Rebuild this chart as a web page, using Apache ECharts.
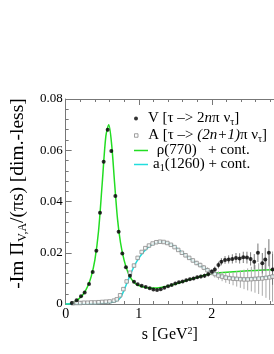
<!DOCTYPE html>
<html><head><meta charset="utf-8">
<script src="https://cdn.jsdelivr.net/npm/echarts@6/dist/echarts.min.js"></script>
<style>html,body{margin:0;padding:0;background:#fff}#c{width:274px;height:354px}</style>
</head><body><div id="c"></div>
<script>
// V data [tau -> 2n pi nu]
const vS = [0.085,0.15,0.21,0.26,0.32,0.37,0.42,0.47,0.52,0.575,0.625,0.68,0.725,0.775,0.825,0.88,0.935,0.985,1.04,1.095,1.15,1.2,1.25,1.3,1.35,1.4,1.45,1.5,1.55,1.6,1.65,1.7,1.75,1.8,1.85,1.9,1.95,2.0,2.04,2.09,2.13,2.18,2.23,2.28,2.33,2.38,2.43,2.48,2.53,2.58,2.63,2.69,2.73,2.78,2.83];
const vV = [0.0004,0.0015,0.003,0.0045,0.0078,0.0125,0.0208,0.0356,0.0555,0.068,0.0597,0.0421,0.0282,0.0197,0.0143,0.011,0.0087,0.0077,0.0071,0.0066,0.0061,0.0057,0.0055,0.0058,0.0063,0.0069,0.0074,0.008,0.0085,0.0088,0.0093,0.0097,0.01,0.0104,0.0107,0.011,0.0116,0.0126,0.0135,0.0152,0.0165,0.0172,0.0174,0.0176,0.018,0.0178,0.0182,0.0181,0.0176,0.0165,0.02,0.0159,0.0174,0.02,0.0135];
const vE = [0.0002,0.0002,0.0002,0.0002,0.0003,0.0003,0.0004,0.0005,0.0006,0.0007,0.0006,0.0005,0.0004,0.0003,0.0003,0.0003,0.0003,0.0003,0.0003,0.0003,0.0003,0.0003,0.0003,0.0003,0.0003,0.0003,0.0003,0.0004,0.0004,0.0004,0.0005,0.0005,0.0006,0.0006,0.0007,0.0008,0.0009,0.001,0.0011,0.0013,0.0014,0.0015,0.0016,0.0018,0.0019,0.002,0.0022,0.0023,0.0026,0.003,0.0036,0.004,0.0045,0.0053,0.006];
// A data [tau -> (2n+1) pi nu]
const aS = [0.1,0.15,0.2,0.25,0.3,0.35,0.4,0.45,0.5,0.55,0.6,0.66,0.7,0.745,0.79,0.835,0.88,0.935,0.985,1.04,1.09,1.14,1.19,1.24,1.29,1.34,1.39,1.44,1.49,1.54,1.59,1.64,1.69,1.74,1.79,1.84,1.89,1.94,1.99,2.04,2.09,2.14,2.19,2.24,2.29,2.34,2.39,2.44,2.49,2.54,2.59,2.64,2.69,2.74,2.79,2.83];
const aV = [0.0003,0.0004,0.0004,0.0005,0.0005,0.0006,0.0006,0.0007,0.0008,0.0009,0.001,0.0013,0.0018,0.0034,0.0058,0.0088,0.0122,0.015,0.018,0.0203,0.0218,0.0228,0.0236,0.0241,0.0243,0.0242,0.0238,0.0231,0.0222,0.0211,0.02,0.019,0.018,0.017,0.016,0.0152,0.0142,0.0132,0.0124,0.0117,0.0111,0.0107,0.0103,0.0101,0.0099,0.0098,0.0097,0.0096,0.0096,0.0097,0.0098,0.0099,0.01,0.0102,0.0104,0.0107];
const aE = [0.0002,0.0002,0.0002,0.0002,0.0002,0.0002,0.0002,0.0002,0.0002,0.0003,0.0003,0.0003,0.0003,0.0004,0.0004,0.0005,0.0005,0.0005,0.0005,0.0005,0.0005,0.0005,0.0005,0.0005,0.0005,0.0005,0.0005,0.0005,0.0006,0.0006,0.0006,0.0007,0.0007,0.0008,0.0008,0.0009,0.001,0.0011,0.0012,0.0014,0.0016,0.0018,0.002,0.0023,0.0026,0.003,0.0034,0.0038,0.0043,0.0048,0.0054,0.006,0.0068,0.0078,0.0088,0.0098];
// rho(770) + continuum curve
const rhoS = [0,0.05,0.1,0.15,0.2,0.25,0.3,0.35,0.4,0.45,0.5,0.55,0.59,0.63,0.67,0.71,0.75,0.8,0.85,0.9,0.95,1.0,1.1,1.2,1.3,1.4,1.5,1.6,1.7,1.8,1.9,2.0,2.2,2.4,2.6,2.85];
const rhoV = [0,0.0001,0.0005,0.0013,0.0025,0.0042,0.0068,0.0108,0.0172,0.0285,0.047,0.0655,0.07,0.062,0.047,0.033,0.024,0.017,0.0125,0.0097,0.0081,0.0072,0.0064,0.0062,0.0064,0.007,0.0078,0.0087,0.0096,0.0104,0.0112,0.0119,0.0124,0.0128,0.0131,0.0134];
// a1(1260) + continuum curve
const a1S = [0,0.3,0.5,0.6,0.65,0.7,0.75,0.8,0.85,0.9,0.95,1.0,1.05,1.1,1.15,1.2,1.3,1.4,1.5,1.6,1.7,1.8,1.9,2.0,2.1,2.2,2.3,2.4,2.5,2.6,2.7,2.85];
const a1V = [0,0.0001,0.0003,0.0006,0.0008,0.0013,0.0025,0.0055,0.009,0.0125,0.0155,0.0178,0.0198,0.0214,0.0226,0.0235,0.0243,0.0238,0.0222,0.0199,0.0177,0.0158,0.014,0.0124,0.0112,0.0105,0.0101,0.0099,0.0099,0.0101,0.0104,0.0109];

const F = 'Liberation Serif';
const axisCol = '#777';
const pair = (xs, ys) => xs.map((s, i) => [s, ys[i]]);
function errSeries(xs, ys, es, color) {
  return {
    type: 'custom', xAxisIndex: 0, yAxisIndex: 0, silent: true, clip: true, z: 3,
    data: xs.map((s, i) => [s, ys[i] - es[i], ys[i] + es[i]]),
    encode: {x: 0, y: [1, 2]},
    renderItem: (p, api) => {
      const lo = api.coord([api.value(0), api.value(1)]);
      const hi = api.coord([api.value(0), api.value(2)]);
      return {type: 'line', shape: {x1: lo[0], y1: lo[1], x2: hi[0], y2: hi[1]}, style: {stroke: color, lineWidth: 1}};
    }
  };
}
const rich = {
  a: {fontFamily: F, fontSize: 15, color: '#000', lineHeight: 18},
  i: {fontFamily: F, fontSize: 15, color: '#000', lineHeight: 18, fontStyle: 'italic'},
  s: {fontFamily: F, fontSize: 10, color: '#000', lineHeight: 9, verticalAlign: 'bottom'}
};
const legendText = {
  V: '{a|V [τ –> 2}{i|n}{a|π ν}{s|τ}{a|]}',
  A: '{a|A [τ –> }{i|(2n+1)}{a|π ν}{s|τ}{a|]}',
  rho: '{a| ρ(770)   + cont.}',
  a1: '{a|a}{s|1}{a|(1260) + cont.}'
};
function mkLegend(name, top, icon, h, itemStyle) {
  return {
    data: [{name: name, icon: icon, itemStyle: itemStyle}],
    left: 134, top: top, padding: 0, itemWidth: 14, itemHeight: h, selectedMode: false,
    formatter: n => legendText[n],
    textStyle: {fontFamily: F, fontSize: 15, color: '#000', rich: rich}
  };
}
const xBase = {
  type: 'value', min: 0, max: 2.85, interval: 1,
  axisLine: {lineStyle: {color: axisCol, width: 1}},
  axisTick: {inside: true, length: 6, lineStyle: {color: axisCol}},
  minorTick: {show: true, splitNumber: 5, length: 3, lineStyle: {color: axisCol}},
  splitLine: {show: false}, minorSplitLine: {show: false}
};
const chart = echarts.init(document.getElementById('c'), null, {renderer: 'canvas'});
chart.setOption({
  animation: false,
  backgroundColor: '#fff',
  grid: {left: 63, top: 99, right: 0, bottom: 50, containLabel: false},
  xAxis: [
    Object.assign({}, xBase, {
      position: 'bottom',
      axisLabel: {fontFamily: F, fontSize: 14, color: '#000', margin: 3, showMaxLabel: false},
      name: '{a|s [GeV}{p|2}{a|]}', nameLocation: 'middle', nameGap: 22,
      nameTextStyle: {rich: {
        a: {fontFamily: F, fontSize: 16, color: '#000', lineHeight: 18},
        p: {fontFamily: F, fontSize: 10, color: '#000', lineHeight: 10, verticalAlign: 'top'}
      }}
    }),
    Object.assign({}, xBase, {position: 'top', axisLabel: {show: false}})
  ],
  yAxis: {
    type: 'value', min: 0, max: 0.08, interval: 0.02,
    axisLine: {lineStyle: {color: axisCol, width: 1}},
    axisTick: {inside: true, length: 6, lineStyle: {color: axisCol}},
    minorTick: {show: true, splitNumber: 5, length: 3, lineStyle: {color: axisCol}},
    splitLine: {show: false},
    axisLabel: {fontFamily: F, fontSize: 13, color: '#000', margin: 3,
      formatter: v => v === 0 ? '0' : v.toFixed(2)},
    name: '{a|-Im Π}{s|V,A}{a|/(πs) [dim.-less]}', nameLocation: 'middle', nameGap: 35, nameRotate: 90,
    nameTextStyle: {padding: [0, 0, 0, 16], rich: {
      a: {fontFamily: F, fontSize: 19.5, color: '#000', lineHeight: 22},
      s: {fontFamily: F, fontSize: 12, color: '#000', lineHeight: 12, verticalAlign: 'bottom'}
    }}
  },
  legend: [
    mkLegend('V', 111, 'circle', 4, {color: '#000'}),
    mkLegend('A', 128, 'path://M0,0H10V10H0Z', 3.5, {color: '#fff', borderColor: '#888', borderWidth: 1}),
    mkLegend('rho', 143, 'rect', 1.5, {color: '#22dd22'}),
    mkLegend('a1', 157, 'rect', 1.5, {color: '#22dddd'})
  ],
  series: [
    {name: 'rho', type: 'line', data: pair(rhoS, rhoV), smooth: 0.3, showSymbol: false, z: 2,
      lineStyle: {color: '#22dd22', width: 1.5}, itemStyle: {color: '#22dd22'}},
    {name: 'a1', type: 'line', data: pair(a1S, a1V), smooth: 0.3, showSymbol: false, z: 2,
      lineStyle: {color: '#22dddd', width: 1.5}, itemStyle: {color: '#22dddd'}},
    errSeries(aS, aV, aE, '#aaaaaa'),
    {name: 'A', type: 'scatter', data: pair(aS, aV), symbol: 'rect', symbolSize: 3.5, z: 4,
      itemStyle: {color: '#fff', borderColor: '#888', borderWidth: 1}},
    errSeries(vS, vV, vE, '#777777'),
    {name: 'V', type: 'scatter', data: pair(vS, vV), symbol: 'circle', symbolSize: 4, z: 5,
      itemStyle: {color: '#000'}}
  ]
});
</script></body></html>
